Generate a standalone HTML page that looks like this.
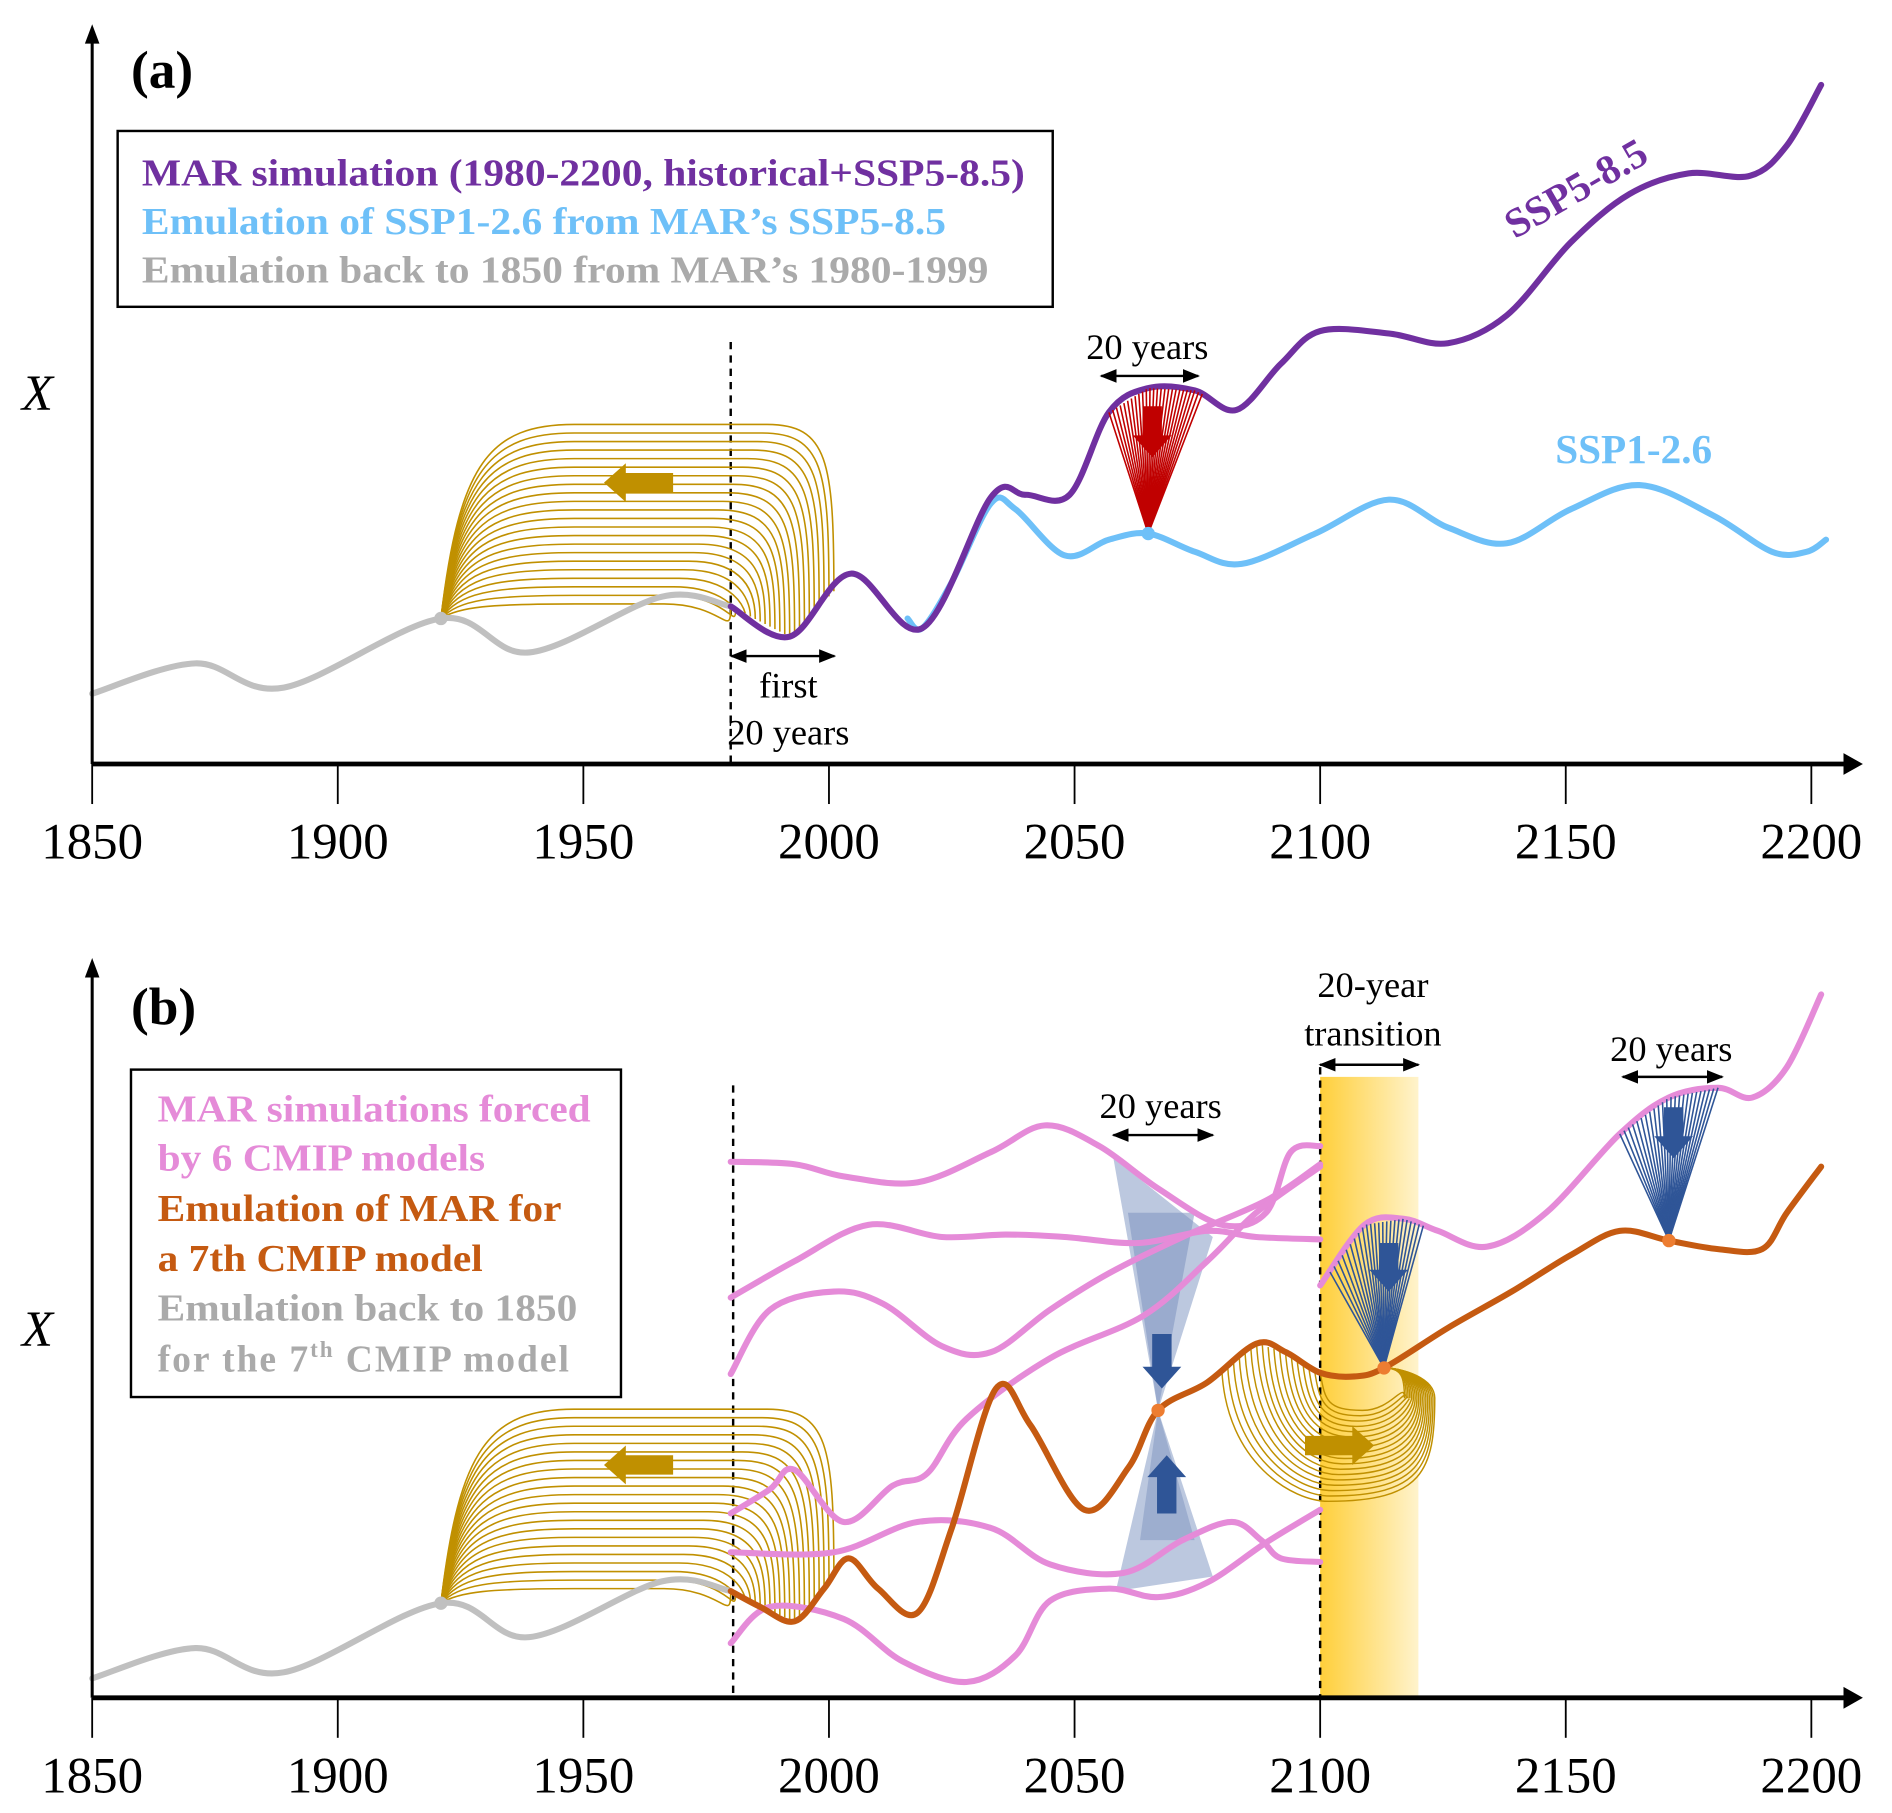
<!DOCTYPE html>
<html><head><meta charset="utf-8"><style>
html,body{margin:0;padding:0;background:#fff}
svg{display:block}
text{font-family:"Liberation Serif",serif}
</style></head><body>
<svg id="fig" width="1892" height="1813" viewBox="0 0 1560 1495" preserveAspectRatio="none" xmlns="http://www.w3.org/2000/svg">
<defs>
<linearGradient id="band" x1="0" x2="1" y1="0" y2="0"><stop offset="0" stop-color="#ffcf3a"/><stop offset="1" stop-color="#fff3cc"/></linearGradient>
<marker id="ah" viewBox="0 0 10 10" refX="9" refY="5" markerWidth="7" markerHeight="7" orient="auto-start-reverse"><path d="M0,1 L10,5 L0,9 z" fill="#000"/></marker>
</defs>
<g id="bg"></g>
<g id="marks"></g>
<g id="axes"></g>
<g id="texts">
<text x="108" y="72" font-size="44" font-weight="bold">(a)</text>
<rect x="97" y="108" width="771" height="145" fill="none" stroke="#000" stroke-width="2"/>
<text x="117" y="153" font-size="31" font-weight="bold" fill="#7030a0" textLength="728" lengthAdjust="spacingAndGlyphs">MAR simulation (1980-2200, historical+SSP5-8.5)</text>
<text x="117" y="193" font-size="31" font-weight="bold" fill="#6ec0f8" textLength="663" lengthAdjust="spacingAndGlyphs">Emulation of SSP1-2.6 from MAR’s SSP5-8.5</text>
<text x="117" y="233" font-size="31" font-weight="bold" fill="#aaaaaa" textLength="698" lengthAdjust="spacingAndGlyphs">Emulation back to 1850 from MAR’s 1980-1999</text>
<text x="18" y="338" font-size="42" font-style="italic">X</text>
<text x="946" y="296" font-size="30" text-anchor="middle">20 years</text>
<text x="650" y="575" font-size="30" text-anchor="middle">first</text>
<text x="650" y="614" font-size="30" text-anchor="middle">20 years</text>
<text x="1305" y="165" font-size="34" font-weight="bold" fill="#7030a0" transform="rotate(-30 1305 165)" text-anchor="middle">SSP5-8.5</text>
<text x="1347" y="382" font-size="34" font-weight="bold" fill="#6ec0f8" text-anchor="middle">SSP1-2.6</text>

<text x="108" y="845" font-size="44" font-weight="bold">(b)</text>
<rect x="108" y="882" width="404" height="270" fill="none" stroke="#000" stroke-width="2"/>
<text x="130" y="925" font-size="31" font-weight="bold" fill="#e58bd8" textLength="357" lengthAdjust="spacingAndGlyphs">MAR simulations forced</text>
<text x="130" y="965" font-size="31" font-weight="bold" fill="#e58bd8" textLength="270" lengthAdjust="spacingAndGlyphs">by 6 CMIP models</text>
<text x="130" y="1007" font-size="31" font-weight="bold" fill="#c55a11" textLength="333" lengthAdjust="spacingAndGlyphs">Emulation of MAR for</text>
<text x="130" y="1048" font-size="31" font-weight="bold" fill="#c55a11" textLength="268" lengthAdjust="spacingAndGlyphs">a 7th CMIP model</text>
<text x="130" y="1089" font-size="31" font-weight="bold" fill="#aaaaaa" textLength="346" lengthAdjust="spacingAndGlyphs">Emulation back to 1850</text>
<text x="130" y="1131" font-size="31" font-weight="bold" fill="#aaaaaa" letter-spacing="1.6">for the 7<tspan font-size="19" dy="-12">th</tspan><tspan dy="12"> CMIP model</tspan></text>
<text x="18" y="1110" font-size="42" font-style="italic">X</text>
<text x="957" y="922" font-size="30" text-anchor="middle">20 years</text>
<text x="1132" y="822" font-size="30" text-anchor="middle">20-year</text>
<text x="1132" y="862" font-size="30" text-anchor="middle">transition</text>
<text x="1378" y="875" font-size="30" text-anchor="middle">20 years</text>
</g>
</svg>
<script>
const years = [1850,1900,1950,2000,2050,2100,2150,2200];
const grayHist = [[1850,5.8],[1871,8.3],[1889,6.3],[1921,12],[1939,9.2],[1966,13.8],[1980,13]];
const ssp585 = [[1980,13],[1992,10.5],[2004.5,15.7],[2019,11.2],[2033,22],[2040,22.2],[2049,22.2],[2057,29],[2065,31],[2074.5,30.8],[2083,29.2],[2092,33],[2100,35.7],[2114,35.5],[2126,34.7],[2138,37],[2151,43],[2163,47],[2175,48.7],[2187.5,48.5],[2195,51],[2202,56]];
const ssp126 = [[2016,12],[2019,11.2],[2025,15],[2033,21.5],[2038,21],[2048,17.2],[2057,18.5],[2065,19],[2074.5,17.5],[2084,16.5],[2099,19],[2114,21.8],[2126,19.5],[2138,18.2],[2151,21],[2165,23],[2180,20.5],[2192,17.5],[2199,17.5],[2203,18.5]];
const pink1 = [[1980,48.4],[1993,48.2],[2003,47.2],[2018,46.7],[2033,49.2],[2044,51.4],[2055,49.7],[2067,46.2],[2080,43.2],[2089,44.2],[2094,49.2],[2100,49.7]];
const pink2 = [[1980,37.2],[1993,40.2],[2008,43.2],[2023,42.2],[2036,42.4],[2048,42.2],[2063,41.7],[2077,42.7],[2087,42.2],[2100,42]];
const pink3 = [[1980,30.9],[1988,36.2],[2001,37.7],[2011,36.7],[2023,33.2],[2033,32.7],[2045,36.2],[2057,39.2],[2072,42.2],[2089,45.2],[2100,48.2]];
const pink4 = [[1980,19.4],[1988,21.4],[1993,23],[2003,18.7],[2013,21.7],[2020,22.7],[2028,27.2],[2045,32.2],[2064,35.7],[2077,40.2],[2087,44.2],[2100,48]];
const pink5 = [[1980,16.2],[2001,16.2],[2018,18.7],[2033,18.2],[2045,15.2],[2060,14.5],[2072,17.2],[2082,18.7],[2088,17.2],[2092,15.7],[2100,15.4]];
const pink6 = [[1980,8.7],[1988,11.7],[2003,10.7],[2015,7.2],[2028,5.5],[2038,7.7],[2045,12.2],[2057,13.2],[2067,12.5],[2077,13.7],[2089,17],[2100,19.7]];
const pink7 = [[2100,38.2],[2109,43.2],[2117,43.7],[2124,42.7],[2134,41.4],[2146,44.2],[2161,50.7],[2171,53.7],[2181,54.5],[2188,53.7],[2195,56.2],[2202,62.2]];
const emul7 = [[1980,13],[1986,11.7],[1993,10.5],[1999,13.2],[2004,15.7],[2010,13.2],[2018,11.2],[2025,18.2],[2034,29.7],[2041,26.7],[2052,19.7],[2061,23.2],[2067,27.9],[2077,30.2],[2087,33.4],[2093,32.7],[2100,31],[2107,30.7],[2113,31.4],[2126,34.7],[2139,37.7],[2151,40.7],[2161,42.7],[2171,41.9],[2181,41.2],[2190,41.2],[2195,44.2],[2202,48]];

const NS='http://www.w3.org/2000/svg';
const X = y => 76 + (y-1850)*4.05;
const YA = v => 630 - v*10;
const YB = v => 1442 - v*10;
const marks = document.getElementById('marks'), axes=document.getElementById('axes'), bg=document.getElementById('bg');
function el(tag, attrs, parent){const e=document.createElementNS(NS,tag);for(const k in attrs)e.setAttribute(k,attrs[k]);(parent||marks).appendChild(e);return e;}
function smooth(pts){let d=`M${pts[0][0].toFixed(1)},${pts[0][1].toFixed(1)}`;for(let i=0;i<pts.length-1;i++){const p0=pts[Math.max(0,i-1)],p1=pts[i],p2=pts[i+1],p3=pts[Math.min(pts.length-1,i+2)];const c1=[p1[0]+(p2[0]-p0[0])/6,p1[1]+(p2[1]-p0[1])/6],c2=[p2[0]-(p3[0]-p1[0])/6,p2[1]-(p3[1]-p1[1])/6];d+=` C${c1[0].toFixed(1)},${c1[1].toFixed(1)} ${c2[0].toFixed(1)},${c2[1].toFixed(1)} ${p2[0].toFixed(1)},${p2[1].toFixed(1)}`;}return d;}
function interp(arr,yr){for(let i=0;i<arr.length-1;i++){if(yr>=arr[i][0]&&yr<=arr[i+1][0]){const f=(yr-arr[i][0])/(arr[i+1][0]-arr[i][0]);return arr[i][1]+f*(arr[i+1][1]-arr[i][1]);}}return yr<arr[0][0]?arr[0][1]:arr[arr.length-1][1];}
function series(arr,Y,color,w,name){const e=el('path',{d:smooth(arr.map(p=>[X(p[0]),Y(p[1])])),fill:'none',stroke:color,'stroke-width':w,'stroke-linecap':'round'});


return e;}
function dot(x,y,c,name){const e=el('circle',{cx:x,cy:y,r:5.5,fill:c});

}
function blockArrow(x,y,dir,len,c,name){
const hw=8,hh=16,hl=18;let pts;
if(dir==='left')pts=[[x,y],[x+hl,y-hh],[x+hl,y-hw],[x+len,y-hw],[x+len,y+hw],[x+hl,y+hw],[x+hl,y+hh]];
if(dir==='right')pts=[[x,y],[x-hl,y-hh],[x-hl,y-hw],[x-len,y-hw],[x-len,y+hw],[x-hl,y+hw],[x-hl,y+hh]];
if(dir==='down')pts=[[x,y],[x-hh,y-hl],[x-hw,y-hl],[x-hw,y-len],[x+hw,y-len],[x+hw,y-hl],[x+hh,y-hl]];
if(dir==='up')pts=[[x,y],[x-hh,y+hl],[x-hw,y+hl],[x-hw,y+len],[x+hw,y+len],[x+hw,y+hl],[x+hh,y+hl]];
const e=el('polygon',{points:pts.map(p=>p.join(',')).join(' '),fill:c});

}
function goldFan(Y,target,name){const dx=X(1921),dy=Y(12);const g=el('g',{});


const N=22;for(let i=0;i<N;i++){const t=i/(N-1);const yP=dy-160+t*148;const ey=2001-t*21;const ex=X(ey),eyy=Y(interp(target,ey));
const d=`M${dx},${dy} C${dx+15},${yP+(dy-yP)*0.2} ${dx+40},${yP} ${dx+110},${yP} L${ex-55},${yP} C${ex-5},${yP} ${ex},${yP+30} ${ex},${eyy}`;
el('path',{d,fill:'none',stroke:'#c09000','stroke-width':1.3},g);}}
function lineFan(ox,oy,target,Y,y0,y1,N,c,name){const g=el('g',{});


for(let i=0;i<N;i++){const yr=y0+(y1-y0)*i/(N-1);el('line',{x1:ox,y1:oy,x2:X(yr),y2:Y(interp(target,yr)),stroke:c,'stroke-width':1.3},g);}}
function dblArrow(x1,x2,y,name){const e=el('line',{x1,y1:y,x2,y2:y,stroke:'#000','stroke-width':2,'marker-start':'url(#ah)','marker-end':'url(#ah)'});

}
function dashed(x,y1,y2,name){const e=el('line',{x1:x,y1,x2:x,y2,stroke:'#000','stroke-width':2,'stroke-dasharray':'6,5'});

}

function axis(base,top,tag){
const a=el('line',{x1:76,y1:base,x2:1522,y2:base,stroke:'#000','stroke-width':4},axes);


el('polygon',{points:`1536,${base} 1520,${base-9} 1520,${base+9}`,fill:'#000'},axes);
const v=el('line',{x1:76,y1:base,x2:76,y2:top+12,stroke:'#000','stroke-width':2.5},axes);


el('polygon',{points:`76,${top} 70,${top+16} 82,${top+16}`,fill:'#000'},axes);
years.forEach(yr=>{const x=X(yr);el('line',{x1:x,y1:base,x2:x,y2:base+33,stroke:'#000','stroke-width':1.5},axes);
const t=el('text',{x,y:base+78,'font-size':42,'text-anchor':'middle'},axes);t.textContent=yr;

});}
axis(630,20,'a');axis(1400,790,'b');

// panel a
dashed(X(1980),282,630,'dashed-1980-a');
goldFan(YA,ssp585,'gold-fan-a');
series(grayHist,YA,'#c0c0c0',5,'gray-backward-a');
series(ssp126,YA,'#6ec0f8',5,'ssp126-line');
series(ssp585,YA,'#7030a0',5,'ssp585-line');
lineFan(X(2065),YA(19),ssp585,YA,2057,2076,26,'#c00000','red-fan');
dot(X(2065),YA(19),'#6ec0f8','ssp126-dot');
dot(X(1921),YA(12),'#c0c0c0','gray-dot-a');
blockArrow(498,398,'left',57,'#c09000','gold-arrow-a');
blockArrow(950,377,'down',42,'#c00000','red-arrow');
dblArrow(908,988,310,'arrow-20-years-a');
dblArrow(603,688,541,'arrow-first-20-years');

// panel b
const band=el('rect',{x:X(2100),y:888,width:X(2120)-X(2100),height:512,fill:'url(#band)'},bg);


dashed(X(1980)+2,895,1400,'dashed-1980-b');
dashed(X(2100),880,1400,'dashed-2100-b');
const hg=el('g',{});


const cx=X(2067),cy=YB(27.9);
el('polygon',{points:`918,955 1000,1020 ${cx},${cy}`,fill:'#8fa3c9','fill-opacity':0.6},hg);
el('polygon',{points:`930,1000 985,1000 ${cx},${cy}`,fill:'#7d93c0','fill-opacity':0.55},hg);
el('polygon',{points:`${cx},${cy} 920,1312 1000,1300`,fill:'#8fa3c9','fill-opacity':0.6},hg);
el('polygon',{points:`${cx},${cy} 940,1270 985,1270`,fill:'#7d93c0','fill-opacity':0.5},hg);
goldFan(YB,emul7,'gold-fan-b');
series(grayHist,YB,'#c0c0c0',5,'gray-backward-b');
[pink1,pink2,pink3,pink4,pink5,pink6,pink7].forEach((p,i)=>series(p,YB,'#e58bd8',5,'mar-cmip-line-'+(i+1)));
(function(){const g=el('g',{});


const ex=X(2113),eY=YB(interp(emul7,2113));const N=18;
for(let i=0;i<N;i++){const t=i/(N-1);const yr=2080+t*20;const sx=X(yr),sy=YB(interp(emul7,yr));
const bot=eY+35+75*(1-t);const rx=1183-25*t;const mx=(sx+rx)/2;
const d=`M${sx},${sy} C${sx+4},${sy+(bot-sy)*0.7} ${mx-30},${bot} ${mx},${bot} C${rx-10},${bot} ${rx},${bot-25} ${rx},${eY+25} C${rx},${eY+8} ${ex+15},${eY} ${ex},${eY}`;
el('path',{d,fill:'none',stroke:'#c09000','stroke-width':1.2},g);}})();
series(emul7,YB,'#c55a11',5,'emulated-7th-model-line');
lineFan(X(2113),YB(interp(emul7,2113)),pink7,YB,2102,2121,24,'#2f5597','blue-fan-1');
lineFan(X(2171),YB(interp(emul7,2171)),pink7,YB,2161,2181,24,'#2f5597','blue-fan-2');
dot(X(2067),YB(interp(emul7,2067)),'#ed7d31','emul-dot-2067');
dot(X(2113),YB(interp(emul7,2113)),'#ed7d31','emul-dot-2113');
dot(X(2171),YB(interp(emul7,2171)),'#ed7d31','emul-dot-2171');
dot(X(1921),YB(12),'#c0c0c0','gray-dot-b');
blockArrow(498,1208,'left',57,'#c09000','gold-arrow-b1');
blockArrow(1133,1192,'right',57,'#c09000','gold-arrow-b2');
blockArrow(958,1145,'down',45,'#2f5597','blue-arrow-down-1');
blockArrow(962,1200,'up',48,'#2f5597','blue-arrow-up');
blockArrow(1145,1065,'down',40,'#2f5597','blue-arrow-down-2');
blockArrow(1380,955,'down',42,'#2f5597','blue-arrow-down-3');
dblArrow(918,1000,936,'arrow-20-years-b1');
dblArrow(X(2100),X(2120),878,'arrow-transition');
dblArrow(1338,1420,888,'arrow-20-years-b2');
</script>
</body></html>
